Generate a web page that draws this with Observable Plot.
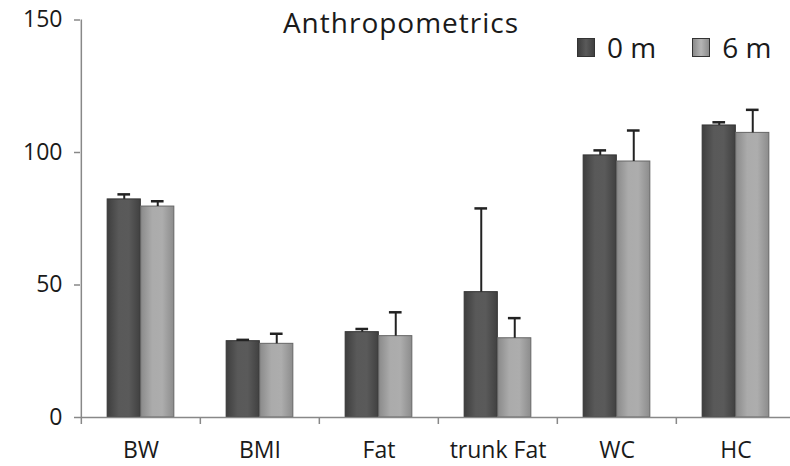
<!DOCTYPE html>
<html>
<head>
<meta charset="utf-8">
<script src="https://cdn.jsdelivr.net/npm/d3@7"></script>
<script src="https://cdn.jsdelivr.net/npm/@observablehq/plot@0.6"></script>
<style>
  html, body { margin: 0; padding: 0; background: #fff; }
  #wrap { position: relative; width: 790px; height: 466px; font-family: "Open Sans", sans-serif; color: #1a1a1a; }
  #title { position: absolute; left: 401px; top: 8px; transform: translateX(-50%); font-size: 28px; line-height: 28px; letter-spacing: 1px; white-space: nowrap; }
  #legend { position: absolute; left: 577px; top: 33px; display: flex; align-items: center; font-size: 28px; line-height: 28px; white-space: nowrap; width: 220px; }
  .item { display: flex; align-items: center; margin-right: 36px; flex-shrink: 0; }
  .sw { width: 18px; height: 19px; margin-right: 12px; box-sizing: border-box; border: 1px solid #333; flex-shrink: 0; }
</style>
</head>
<body>
<div id="wrap">
  <div id="title"></div>
  <div id="legend"></div>
</div>
<script>
const title = "Anthropometrics";
const categories = ["BW", "BMI", "Fat", "trunk Fat", "WC", "HC"];
const seriesNames = ["0 m", "6 m"];
const values0m = [82.3, 28.8, 32.2, 47.3, 98.9, 110.2];
const err0m    = [1.9, 0.5, 1.2, 31.6, 1.9, 1.2];
const values6m = [79.6, 27.8, 30.7, 29.9, 96.6, 107.4];
const err6m    = [2.0, 3.8, 9.0, 7.6, 11.7, 8.7];
const yTicks = [0, 50, 100, 150];

const rows0 = categories.map((c, i) => ({cat: c, v: values0m[i], top: values0m[i] + err0m[i]}));
const rows6 = categories.map((c, i) => ({cat: c, v: values6m[i], top: values6m[i] + err6m[i]}));

const xRange = [80, 796];
const bw = (xRange[1] - xRange[0]) / categories.length;
const barW = 33.5;
const half = bw / 2;
const capHalf = 6.5;

const chart = Plot.plot({
  width: 790,
  height: 466,
  marginLeft: 80,
  marginRight: 0,
  marginTop: 19.5,
  marginBottom: 49,
  style: {fontFamily: "Open Sans, sans-serif", color: "#1a1a1a", background: "transparent", overflow: "visible"},
  x: {domain: categories, range: xRange, padding: 0},
  y: {domain: [0, 150]},
  marks: [
    Plot.barY(rows0, {x: "cat", y: "v", fill: "url(#gDark)", stroke: "#333", strokeWidth: 1,
      insetLeft: half - barW, insetRight: half}),
    Plot.barY(rows6, {x: "cat", y: "v", fill: "url(#gLight)", stroke: "#666", strokeWidth: 1,
      insetLeft: half, insetRight: half - barW}),
    Plot.ruleX(rows0, {x: "cat", y1: "v", y2: "top", dx: -barW / 2, stroke: "#222", strokeWidth: 2}),
    Plot.ruleX(rows6, {x: "cat", y1: "v", y2: "top", dx: barW / 2, stroke: "#222", strokeWidth: 2}),
    Plot.tickY(rows0, {x: "cat", y: "top", dx: -barW / 2, insetLeft: half - capHalf, insetRight: half - capHalf, stroke: "#222", strokeWidth: 2.5}),
    Plot.tickY(rows6, {x: "cat", y: "top", dx: barW / 2, insetLeft: half - capHalf, insetRight: half - capHalf, stroke: "#222", strokeWidth: 2.5}),
    Plot.ruleY([0], {stroke: "#888", strokeWidth: 1.5}),
    Plot.ruleX(categories, {x: d => d, dx: -half, y1: d => d === categories[0] ? 150 : 0, y2: 0, insetBottom: -7, stroke: "#888", strokeWidth: 1.5}),
    Plot.axisY(yTicks, {tickSize: 6, tickPadding: 12, fontSize: 23, stroke: "#888", strokeWidth: 1.5, label: null}),
    Plot.axisX({tickSize: 0, tickPadding: 24, fontSize: 23, label: null})
  ]
});

// gradients for bar shading
const ns = "http://www.w3.org/2000/svg";
const defs = document.createElementNS(ns, "defs");
function grad(id, stops) {
  const g = document.createElementNS(ns, "linearGradient");
  g.setAttribute("id", id);
  g.setAttribute("x1", "0"); g.setAttribute("x2", "1"); g.setAttribute("y1", "0"); g.setAttribute("y2", "0");
  stops.forEach(([o, c]) => {
    const s = document.createElementNS(ns, "stop");
    s.setAttribute("offset", o); s.setAttribute("stop-color", c);
    g.appendChild(s);
  });
  defs.appendChild(g);
}
grad("gDark", [[0, "#3e3e3e"], [0.35, "#595959"], [0.65, "#5a5a5a"], [1, "#404040"]]);
grad("gLight", [[0, "#8a8a8a"], [0.35, "#ababab"], [0.65, "#adadad"], [1, "#8c8c8c"]]);
chart.insertBefore(defs, chart.firstChild);

const wrap = document.getElementById("wrap");
wrap.insertBefore(chart, wrap.firstChild);
chart.style.position = "absolute";
chart.style.left = "0";
chart.style.top = "0";

document.getElementById("title").textContent = title;
const legend = document.getElementById("legend");
const swFills = ["linear-gradient(90deg,#3e3e3e,#5a5a5a,#404040)", "linear-gradient(90deg,#8a8a8a,#b5b5b5,#8c8c8c)"];
seriesNames.forEach((name, i) => {
  const item = document.createElement("div");
  item.className = "item";
  const sw = document.createElement("div");
  sw.className = "sw";
  sw.style.background = swFills[i];
  const t = document.createElement("span");
  t.textContent = name;
  item.appendChild(sw);
  item.appendChild(t);
  legend.appendChild(item);
});
</script>
</body>
</html>
